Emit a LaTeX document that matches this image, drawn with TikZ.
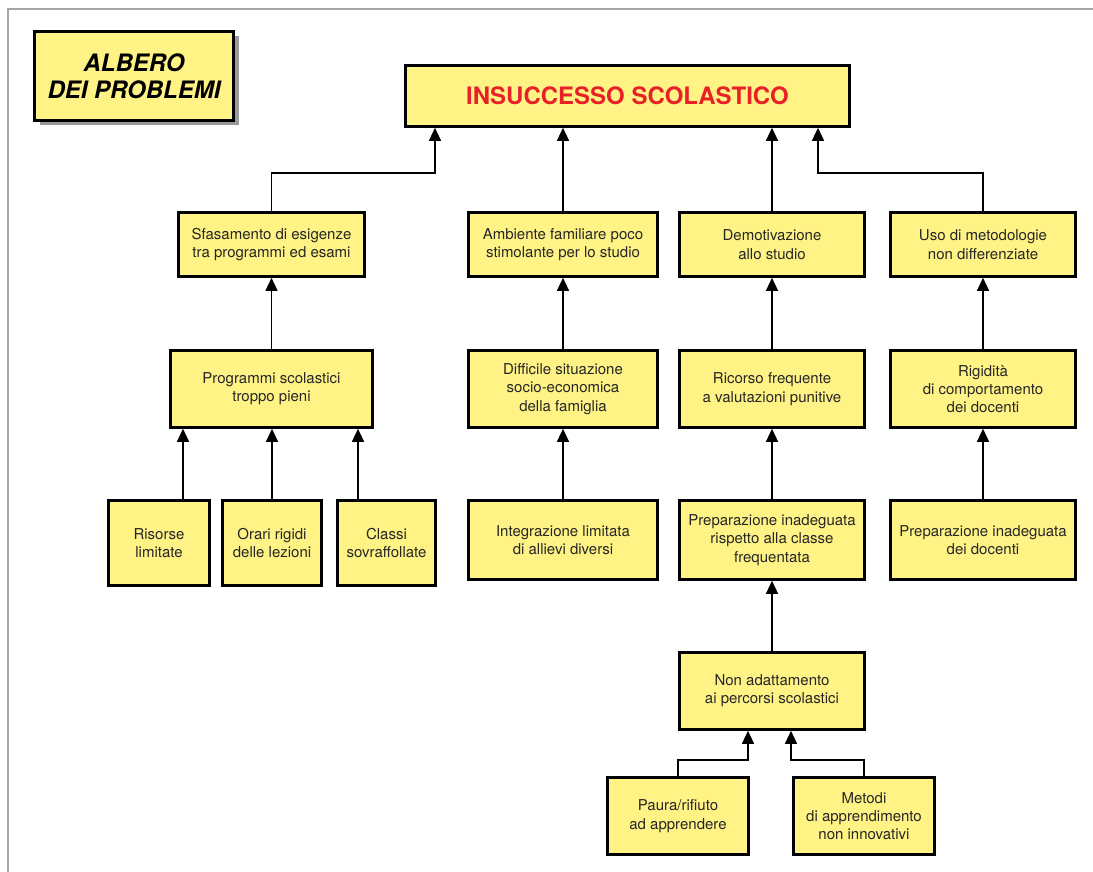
\documentclass[tikz,border=0pt]{standalone}
\usepackage{fontspec}
\setmainfont{TeX Gyre Heros}
\usetikzlibrary{arrows.meta,shadows}
\definecolor{boxyellow}{RGB}{255,243,133}
\definecolor{insred}{RGB}{232,32,40}
\begin{document}
\begin{tikzpicture}[x=1pt,y=-1pt,
  box/.style={draw,line width=2.6pt,fill=boxyellow,align=center,inner sep=0pt,
    text=black!85,font=\fontsize{15}{18.3}\selectfont},
  arr/.style={-{Triangle[width=12pt,length=13pt]},line width=1.3pt}]
  \useasboundingbox (0,0) rectangle (1093,872);
  \draw[gray!70,line width=2pt] (8,872) -- (8,9) -- (1093,9);
  % titolo e problema centrale
  \node[box,minimum width=199pt,minimum height=89pt,text=black,font=\fontsize{24}{27}\selectfont\bfseries\itshape,
    drop shadow={shadow xshift=5pt,shadow yshift=-5pt,fill=black!40,opacity=1}]
    (titolo) at (134,76) {ALBERO\\DEI PROBLEMI};
  \node[box,minimum width=444pt,minimum height=61pt,text=insred,font=\fontsize{24}{27}\selectfont\bfseries]
    (insucc) at (627.5,96) {INSUCCESSO SCOLASTICO};
  % cause dirette
  \node[box,minimum width=186pt,minimum height=64pt] (sfas) at (271.5,244.5) {Sfasamento di esigenze\\tra programmi ed esami};
  \node[box,minimum width=189pt,minimum height=64pt] (amb) at (563,244.5) {Ambiente familiare poco\\stimolante per lo studio};
  \node[box,minimum width=185pt,minimum height=64pt] (demo) at (772,244.5) {Demotivazione\\allo studio};
  \node[box,minimum width=185pt,minimum height=64pt] (uso) at (983,244.5) {Uso di metodologie\\non differenziate};
  % secondo livello
  \node[box,minimum width=202pt,minimum height=77pt] (prog) at (271.5,389) {Programmi scolastici\\troppo pieni};
  \node[box,minimum width=189pt,minimum height=77pt] (diff) at (563,389) {Difficile situazione\\socio-economica\\della famiglia};
  \node[box,minimum width=185pt,minimum height=77pt] (ric) at (772,389) {Ricorso frequente\\a valutazioni punitive};
  \node[box,minimum width=185pt,minimum height=77pt] (rig) at (983,389) {Rigidità\\di comportamento\\dei docenti};
  % terzo livello
  \node[box,minimum width=101pt,minimum height=85pt] (ris) at (159,543) {Risorse\\limitate};
  \node[box,minimum width=99pt,minimum height=85pt] (orari) at (272,543) {Orari rigidi\\delle lezioni};
  \node[box,minimum width=98pt,minimum height=85pt] (classi) at (386.5,543) {Classi\\sovraffollate};
  \node[box,minimum width=189pt,minimum height=79pt] (integ) at (563,540) {Integrazione limitata\\di allievi diversi};
  \node[box,minimum width=185pt,minimum height=79pt] (prep) at (772,540) {Preparazione inadeguata\\rispetto alla classe\\frequentata};
  \node[box,minimum width=185pt,minimum height=79pt] (prepdoc) at (983,540) {Preparazione inadeguata\\dei docenti};
  % quarto e quinto livello
  \node[box,minimum width=185pt,minimum height=77pt] (nonad) at (772,691) {Non adattamento\\ai percorsi scolastici};
  \node[box,minimum width=141pt,minimum height=77pt] (paura) at (678,816) {Paura/rifiuto\\ad apprendere};
  \node[box,minimum width=141pt,minimum height=77pt] (metodi) at (864,816) {Metodi\\di apprendimento\\non innovativi};
  % punti di raccordo
  \coordinate (ja) at (435,173);
  \coordinate (jb) at (818,173);
  \coordinate (jc) at (748,760);
  \coordinate (jd) at (791,760);
  \coordinate (pa) at (183,0);
  \coordinate (pc) at (358,0);
  % frecce
  \draw[arr] (sfas.north) |- (ja) -- (ja |- insucc.south);
  \draw[arr] (uso.north) |- (jb) -- (jb |- insucc.south);
  \foreach \a/\b in {amb/insucc,demo/insucc,prog/sfas,diff/amb,ric/demo,rig/uso,
                     orari/prog,integ/diff,prep/ric,prepdoc/rig,nonad/prep}
    \draw[arr] (\a.north) -- (\a.north |- \b.south);
  \draw[arr] (pa |- ris.north) -- (pa |- prog.south);
  \draw[arr] (pc |- classi.north) -- (pc |- prog.south);
  \draw[arr] (paura.north) |- (jc) -- (jc |- nonad.south);
  \draw[arr] (metodi.north) |- (jd) -- (jd |- nonad.south);
\end{tikzpicture}
\end{document}
